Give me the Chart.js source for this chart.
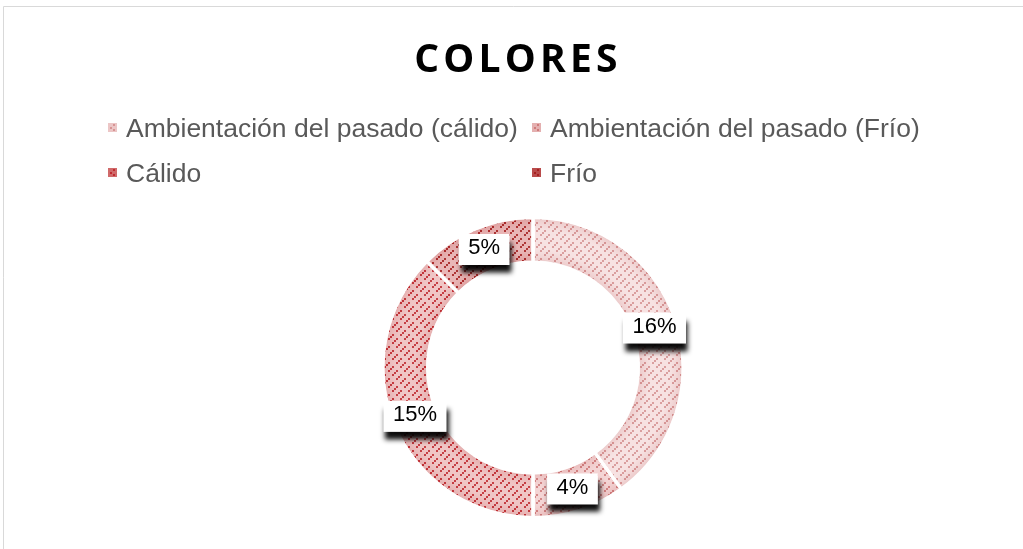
<!DOCTYPE html>
<html><head><meta charset="utf-8">
<script src="https://cdn.jsdelivr.net/npm/chart.js@4.4.0/dist/chart.umd.min.js"></script>
<style>html,body{margin:0;padding:0;background:#fff;overflow:hidden}</style>
</head><body>
<canvas id="c" width="1023" height="549"></canvas>
<script>
const chartTitle = 'COLORES';
const categories = ['Ambientación del pasado (cálido)', 'Ambientación del pasado (Frío)', 'Cálido', 'Frío'];
const values = [16, 4, 15, 5];
const valueLabels = ['16%', '4%', '15%', '5%'];

const patternBg = ['#f6dfdf', '#f3d0d0', '#eebfbf', '#e7afaf'];
const patternFg = ['#d69494', '#cf7b7b', '#c02a30', '#a62020'];
const legendFill = ['#ecc6c6', '#e4b0b0', '#d06a6a', '#b94b4b'];

function makePattern(bg, fg) {
  const s = 2, n = 8;
  const c = document.createElement('canvas');
  c.width = n * s; c.height = n * s;
  const g = c.getContext('2d');
  g.fillStyle = bg; g.fillRect(0, 0, c.width, c.height);
  g.fillStyle = fg;
  for (let y = 0; y < n; y++) for (let x = 0; x < n; x++) {
    if ((x + y) % 4 === 3 && [1, 3, 5].includes((x - y + 16) % 8)) g.fillRect(x * s, y * s, s, s);
  }
  return document.getElementById('c').getContext('2d').createPattern(c, 'repeat');
}
const patterns = patternBg.map((b, i) => makePattern(b, patternFg[i]));

const FONT = '"Liberation Sans", Arial, sans-serif';

const framePlugin = {
  id: 'frame',
  beforeDraw(chart) {
    const ctx = chart.ctx;
    ctx.save();
    ctx.strokeStyle = '#d9d9d9';
    ctx.lineWidth = 1;
    ctx.beginPath();
    ctx.moveTo(3.5, 549); ctx.lineTo(3.5, 6.5); ctx.lineTo(1023, 6.5);
    ctx.stroke();
    ctx.restore();
  }
};

const headerPlugin = {
  id: 'header',
  afterDraw(chart) {
    const ctx = chart.ctx;
    ctx.save();
    ctx.fillStyle = '#000';
    ctx.font = 'bold 39px "Open Sans", sans-serif';
    ctx.letterSpacing = '4.2px';
    ctx.textAlign = 'center';
    ctx.textBaseline = 'alphabetic';
    ctx.fillText(chartTitle, 518, 72);
    ctx.letterSpacing = '0px';
    // legend
    const pos = [[108, 137], [532, 137], [108, 182], [532, 182]];
    ctx.font = '26.5px ' + FONT;
    ctx.textAlign = 'left';
    categories.forEach((lab, i) => {
      const [bx, by] = pos[i];
      ctx.fillStyle = legendFill[i];
      ctx.fillRect(bx, by - 14, 9, 9);
      ctx.fillStyle = patternFg[i];
      ctx.fillRect(bx + 2, by - 10, 2, 2);
      ctx.fillRect(bx + 5, by - 13, 2, 2);
      ctx.fillRect(bx + 5, by - 8, 2, 2);
      ctx.fillStyle = '#595959';
      ctx.fillText(lab, bx + 18, by);
    });
    ctx.restore();
  }
};

const shadePlugin = {
  id: 'shade',
  afterDatasetsDraw(chart) {
    const ctx = chart.ctx;
    const meta = chart.getDatasetMeta(0);
    meta.data.forEach(arc => {
      const {x, y, startAngle, endAngle, innerRadius, outerRadius} = arc.getProps(['x','y','startAngle','endAngle','innerRadius','outerRadius'], true);
      ctx.save();
      const g = ctx.createRadialGradient(x, y, innerRadius, x, y, outerRadius);
      g.addColorStop(0, 'rgba(170,60,60,0.14)');
      g.addColorStop(0.3, 'rgba(255,255,255,0.10)');
      g.addColorStop(0.7, 'rgba(255,255,255,0.10)');
      g.addColorStop(1, 'rgba(170,60,60,0.14)');
      ctx.beginPath();
      ctx.arc(x, y, outerRadius, startAngle, endAngle);
      ctx.arc(x, y, innerRadius, endAngle, startAngle, true);
      ctx.closePath();
      ctx.fillStyle = g;
      ctx.fill();
      ctx.strokeStyle = '#fff';
      ctx.lineWidth = 3;
      ctx.lineJoin = 'bevel';
      ctx.stroke();
      ctx.restore();
    });
  }
};

const labelPlugin = {
  id: 'valueLabels',
  afterDatasetsDraw(chart) {
    const ctx = chart.ctx;
    const meta = chart.getDatasetMeta(0);
    ctx.save();
    ctx.font = '22px ' + FONT;
    meta.data.forEach((arc, i) => {
      const p = arc.tooltipPosition(true);
      const txt = valueLabels[i];
      const w = ctx.measureText(txt).width + 19;
      const h = 31;
      ctx.save();
      ctx.shadowColor = 'rgba(0,0,0,0.95)';
      ctx.shadowBlur = 5;
      ctx.shadowOffsetX = 2;
      ctx.shadowOffsetY = 8;
      ctx.fillStyle = '#fff';
      ctx.fillRect(p.x - w / 2, p.y - h / 2, w, h);
      ctx.restore();
      ctx.fillStyle = '#000';
      ctx.textAlign = 'center';
      ctx.textBaseline = 'alphabetic';
      ctx.fillText(txt, p.x, p.y + 5);
    });
    ctx.restore();
  }
};

new Chart(document.getElementById('c'), {
  type: 'doughnut',
  data: {
    labels: categories,
    datasets: [{
      data: values,
      backgroundColor: patterns,
      borderColor: '#ffffff',
      borderWidth: 3,
      hoverOffset: 0
    }]
  },
  options: {
    responsive: false,
    animation: false,
    events: [],
    cutout: '70.3%',
    layout: { padding: { top: 216, bottom: 30, left: 43, right: 0 } },
    plugins: {
      legend: { display: false },
      title: { display: false },
      tooltip: { enabled: false }
    }
  },
  plugins: [framePlugin, shadePlugin, labelPlugin, headerPlugin]
});
</script>
</body></html>
